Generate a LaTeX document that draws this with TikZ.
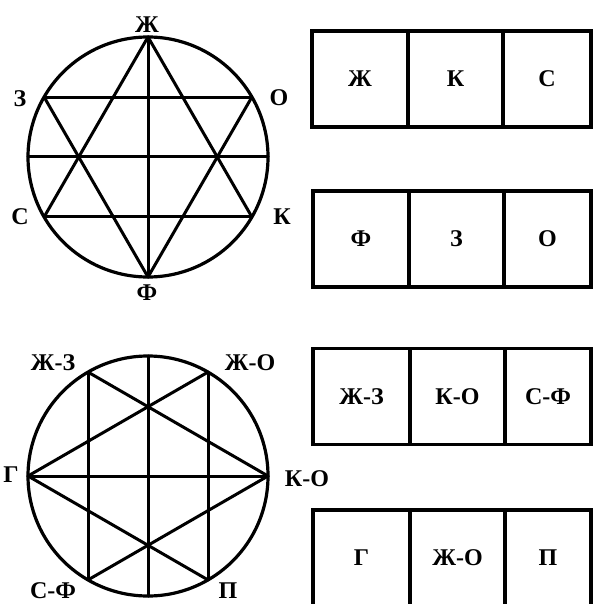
\documentclass[tikz,border=0pt]{standalone}
\usepackage{fontspec}
\setmainfont{Liberation Serif}
\usetikzlibrary{positioning}

\begin{document}
\begin{tikzpicture}[x=1pt, y=-1pt,
  ring/.style={circle, draw, line width=3.2pt, minimum size=240pt, inner sep=0pt, outer sep=0pt},
  chord/.style={line width=3pt, line cap=round},
  lbl/.style={font=\fontsize{24}{26}\selectfont\bfseries, inner sep=0pt},
  cell/.style={draw, line width=3.2pt, minimum width=95pt, minimum height=96pt,
               inner sep=0pt, outer sep=0pt, font=\fontsize{24}{26}\selectfont\bfseries}
]
\useasboundingbox (0,0) rectangle (593,604);
\clip (0,0) rectangle (593,604);

\node[ring] (up) at (148,157) {};
\coordinate (Zh) at (up.90);
\coordinate (Z) at (up.150);
\coordinate (S) at (up.210);
\coordinate (F) at (up.270);
\coordinate (K) at (up.330);
\coordinate (O) at (up.30);
\coordinate (tL) at (up.180);
\coordinate (tR) at (up.0);
\foreach \a/\b in {Zh/S, S/K, K/Zh, F/Z, Z/O, O/F, Zh/F, tL/tR}
  \draw[chord] (\a) -- (\b);

\node[lbl] (lZh) at (147,25) {Ж};
\node[lbl] (lZ) at (20,99) {З};
\node[lbl] (lO) at (279,98) {О};
\node[lbl] (lS) at (20,217) {С};
\node[lbl] (lK) at (282,217) {К};
\node[lbl] (lF) at (147,293) {Ф};

\node[ring] (dn) at (148,476) {};
\coordinate (KO) at (dn.0);
\coordinate (ZhO) at (dn.60);
\coordinate (ZhZ) at (dn.120);
\coordinate (G) at (dn.180);
\coordinate (SF) at (dn.240);
\coordinate (P) at (dn.300);
\coordinate (bT) at (dn.90);
\coordinate (bB) at (dn.270);
\foreach \a/\b in {KO/ZhZ, ZhZ/SF, SF/KO, G/ZhO, ZhO/P, P/G, G/KO, bT/bB}
  \draw[chord] (\a) -- (\b);

\node[lbl] (lZhZ) at (53,363) {Ж-З};
\node[lbl] (lZhO) at (250,363) {Ж-О};
\node[lbl] (lG) at (11,475) {Г};
\node[lbl] (lKO) at (307,479) {К-О};
\node[lbl] (lSF) at (53,591) {С-Ф};
\node[lbl] (lP) at (228,591) {П};

\node[cell, minimum width=96pt] (r1a) at (360,79) {Ж};
\node[cell, right=0pt of r1a] (r1b) {К};
\node[cell, right=0pt of r1b, minimum width=88pt] (r1c) {С};

\node[cell, minimum width=96pt] (r2a) at (361,239) {Ф};
\node[cell, right=0pt of r2a] (r2b) {З};
\node[cell, right=0pt of r2b, minimum width=87pt] (r2c) {О};

\node[cell, minimum width=97pt] (r3a) at (361.5,396.5) {Ж-З};
\node[cell, right=0pt of r3a] (r3b) {К-О};
\node[cell, right=0pt of r3b, minimum width=86pt] (r3c) {С-Ф};

\node[cell, minimum width=97pt] (r4a) at (361.5,558) {Г};
\node[cell, right=0pt of r4a] (r4b) {Ж-О};
\node[cell, right=0pt of r4b, minimum width=86pt] (r4c) {П};
\end{tikzpicture}
\end{document}
